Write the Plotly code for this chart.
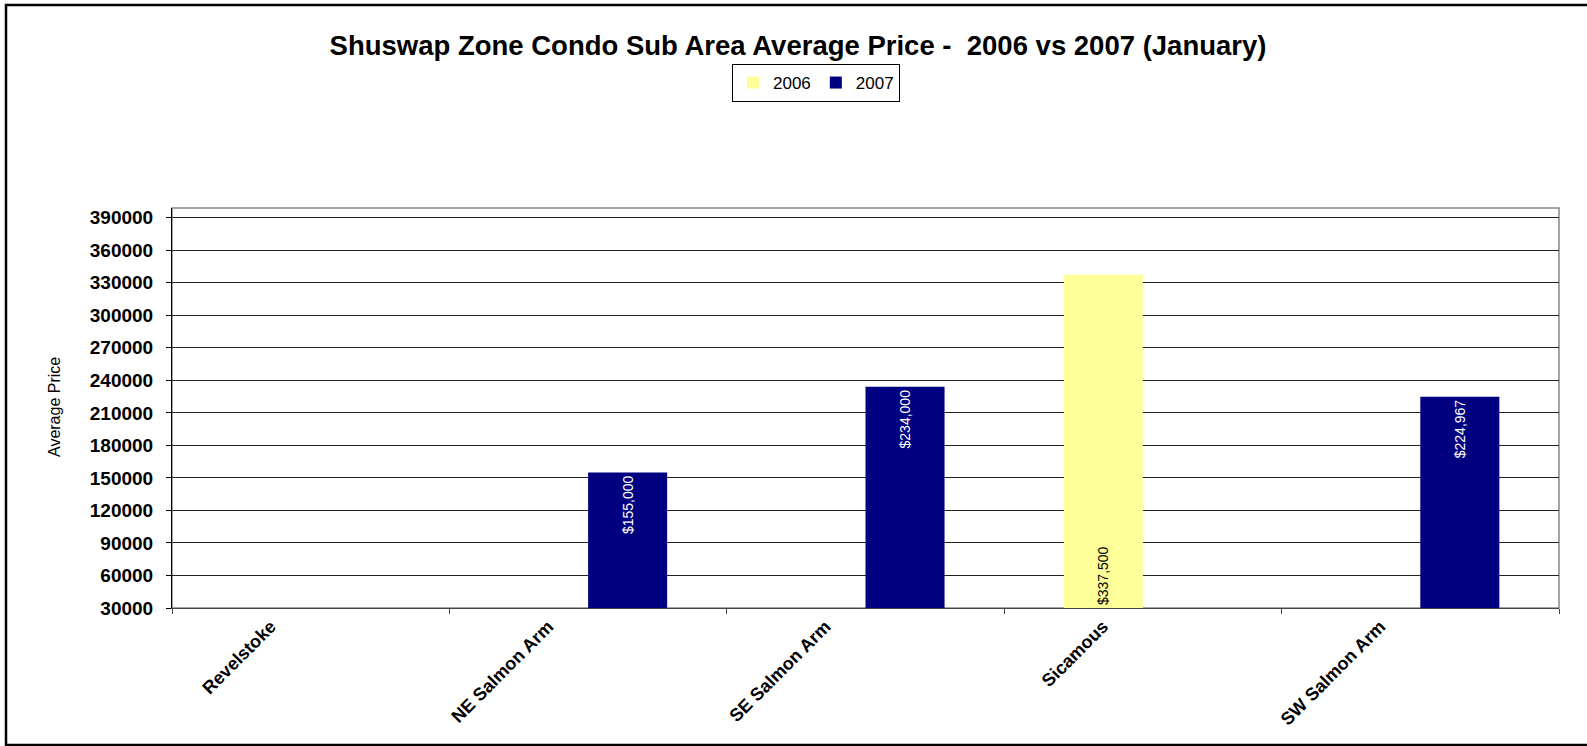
import plotly.graph_objects as go

categories = ["Revelstoke", "NE Salmon Arm", "SE Salmon Arm", "Sicamous", "SW Salmon Arm"]
values_2006 = [None, None, None, 337500, None]
values_2007 = [None, 155000, 234000, None, 224967]
y_tick_vals = [30000, 60000, 90000, 120000, 150000, 180000, 210000, 240000,
               270000, 300000, 330000, 360000, 390000]
Y_AXIS_MIN = 30000
Y_AXIS_MAX = 399000

FONT = "Liberation Sans, Arial, sans-serif"


def fmt(v):
    return "" if v is None else "${:,.0f}".format(v)


def above_min(vals):
    # Excel draws columns from the axis minimum: bar length = value - axis minimum
    return [None if v is None else v - Y_AXIS_MIN for v in vals]


fig = go.Figure()
fig.add_trace(go.Bar(
    name="2006", x=categories, y=above_min(values_2006), base=Y_AXIS_MIN,
    marker=dict(color="#FFFF99", line=dict(width=0)),
    text=[fmt(v) for v in values_2006], textposition="inside",
    insidetextanchor="start", textangle=-90,
    textfont=dict(family=FONT, size=14, color="black"),
    customdata=values_2006, hovertemplate="%{x}<br>2006: %{customdata:$,}<extra></extra>",
))
fig.add_trace(go.Bar(
    name="2007", x=categories, y=above_min(values_2007), base=Y_AXIS_MIN,
    marker=dict(color="#000080", line=dict(width=0)),
    text=[fmt(v) for v in values_2007], textposition="inside",
    insidetextanchor="end", textangle=-90,
    textfont=dict(family=FONT, size=14, color="white"),
    customdata=values_2007, hovertemplate="%{x}<br>2007: %{customdata:$,}<extra></extra>",
))

L, R, T, B = 172, 28, 208, 138
W, H = 1587, 746
pw, ph = W - L - R, H - T - B

fig.update_layout(
    width=W, height=H,
    margin=dict(l=L, r=R, t=T, b=B, pad=0),
    paper_bgcolor="white", plot_bgcolor="white",
    barmode="group", bargap=0.43, bargroupgap=0,
    font=dict(family=FONT, color="black"),
    title=dict(
        text="<b>Shuswap Zone Condo Sub Area Average Price -\u00a0 2006 vs 2007 (January)</b>",
        font=dict(family=FONT, size=27.5, color="black"),
        x=798 / W, xref="container", xanchor="center",
        y=1 - 45 / H, yref="container", yanchor="middle",
    ),
    showlegend=True,
    legend=dict(
        orientation="h",
        x=(816 - L) / pw, xanchor="center",
        y=1 + (T - 64) / ph, yanchor="top",
        bordercolor="black", borderwidth=1, bgcolor="white",
        font=dict(family=FONT, size=17, color="black"),
        itemwidth=30, tracegroupgap=0,
    ),
    xaxis=dict(
        type="category",
        tickangle=-45,
        ticks="outside", ticklen=5, tickcolor="#444", tickson="boundaries",
        showline=True, linecolor="#444", linewidth=1,
        showgrid=False,
        tickvals=categories,
        ticktext=["<b>%s</b>" % c for c in categories],
        tickfont=dict(family=FONT, size=18, color="black"),
        ticklabelshift=-40, ticklabelstandoff=0,
    ),
    yaxis=dict(
        range=[Y_AXIS_MIN, Y_AXIS_MAX],
        tickmode="array", tickvals=y_tick_vals,
        ticktext=["<b>%d</b>" % v for v in y_tick_vals],
        ticks="outside", ticklen=5, tickcolor="black",
        showline=True, linecolor="black", linewidth=1,
        showgrid=True, gridcolor="#222", gridwidth=1,
        zeroline=False,
        tickfont=dict(family=FONT, size=19, color="black"),
        ticklabelstandoff=9,
    ),
    shapes=[
        # plot area border (grey top / right)
        dict(type="rect", xref="paper", yref="paper", x0=0, x1=1, y0=0, y1=1,
             line=dict(color="#888", width=1.5), layer="below"),
        # outer chart frame
        dict(type="rect", xref="paper", yref="paper",
             x0=(6 - L) / pw, x1=(W + 20 - L) / pw,
             y0=-(H - 1 - (T + ph)) / ph, y1=1 + (T - 5) / ph,
             line=dict(color="black", width=2.5)),
    ],
    annotations=[
        dict(text="Average Price", textangle=-90, showarrow=False,
             xref="paper", yref="paper",
             x=(54 - L) / pw, y=(T + ph - 407) / ph,
             xanchor="center", yanchor="middle",
             font=dict(family=FONT, size=16, color="black")),
    ],
)

fig.write_html("out.html",
               config={"displayModeBar": False},
               post_script="document.body.style.margin='0px';document.body.style.overflow='hidden';")
